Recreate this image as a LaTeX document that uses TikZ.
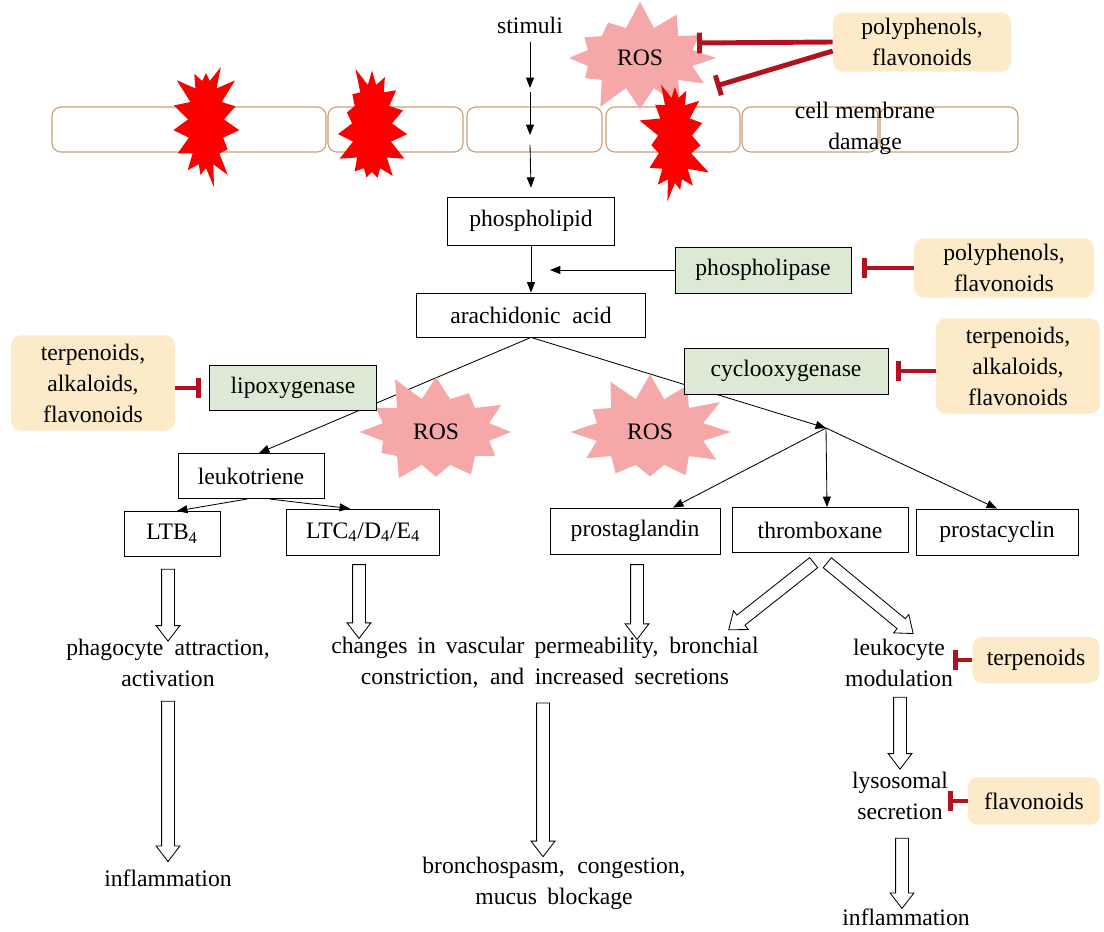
\documentclass[tikz,border=0pt]{standalone}
\usepackage{fontspec}
\setmainfont{Liberation Serif}
\usetikzlibrary{arrows.meta,shapes.symbols,shapes.arrows,calc}

\definecolor{enzgreen}{RGB}{220,234,213}
\definecolor{herbcream}{RGB}{252,234,200}
\definecolor{blockred}{RGB}{178,18,32}
\definecolor{rospink}{RGB}{246,168,168}
\definecolor{burstred}{RGB}{250,0,0}
\definecolor{cellline}{RGB}{200,160,118}

\newcommand{\fatarrow}[2]{%
  \path (#1) coordinate (faA) (#2) coordinate (faB);
  \path let \p1=($(faB)-(faA)$), \n1={veclen(\x1,\y1)} in
    (faA) -- (faB) node[hollow, midway, sloped, minimum height=\n1] {};}

\begin{document}
\begin{tikzpicture}[x=0.025cm, y=-0.025cm,
    every node/.style={font=\fontsize{16.8pt}{22pt}\selectfont, align=center, inner sep=0pt},
    box/.style={draw, line width=0.6pt, fill=white},
    enzyme/.style={box, fill=enzgreen},
    herb/.style={fill=herbcream, rounded corners=0.25cm},
    arr/.style={line width=0.6pt, -{Triangle[length=0.26cm, width=0.2cm]}},
    inhib/.style={draw=blockred, line width=3.5pt, -{Bar[width=0.52cm]}},
    cell/.style={draw=cellline, line width=0.8pt, rounded corners=0.22cm},
    ros/.style={starburst, fill=rospink, starburst points=12, starburst point height=0.7cm},
    burst/.style={starburst, fill=burstred, starburst points=15, starburst point height=0.55cm},
    hollow/.style={single arrow, draw, fill=white, line width=0.6pt, minimum width=0pt,
      inner xsep=0pt, inner ysep=0.15cm, single arrow head extend=0.1375cm,
      single arrow tip angle=75, allow upside down}]
    \useasboundingbox (0,0) rectangle (1104,932);

    % membrane
    \draw[cell] (52,107) rectangle (326,152);
    \draw[cell] (328,107) rectangle (463,152);
    \draw[cell] (467,107) rectangle (602,152);
    \draw[cell] (606,107) rectangle (740,152);
    \draw[cell] (742,107) rectangle (878,152);
    \draw[cell] (880,107) rectangle (1018,152);

    \node (stimuli) at (530,25) {stimuli};
    \node[box, minimum width=4.18cm, minimum height=1.2cm] (lipid) at (531,221) {phospholipid};
    \coordinate (s1) at (530,88);
    \coordinate (s2) at (530,92);
    \coordinate (s3) at (530,135);
    \coordinate (s4) at (530,145);
    \draw[arr, shorten <=0.2cm] (stimuli) -- (s1);
    \draw[arr] (s2) -- (s3);
    \draw[arr] (s4) -- ([yshift=0.22cm]lipid.north);

    \node[ros, minimum width=4.1cm, minimum height=2.95cm, random starburst=7] (rostop) at (640,58) {ROS};
    \node[burst, minimum width=2.0cm, minimum height=3.3cm, random starburst=3] (burst1) at (206,124) {};
    \node[burst, minimum width=2.1cm, minimum height=3.3cm, random starburst=5] (burst2) at (372,128) {};
    \node[burst, minimum width=1.95cm, minimum height=3.25cm, random starburst=9] (burst3) at (675,140) {};
    \node (damage) at (865,128) {\makebox[3.5cm][s]{cell membrane}\\damage};

    \node[herb, minimum width=4.45cm, minimum height=1.48cm] (herbtop) at (922,42) {polyphenols,\\flavonoids};
    \coordinate (bar1) at (697,43);
    \coordinate (bar2) at (716,86);
    \draw[inhib] (herbtop.west) -- (bar1);
    \draw[inhib] ($(herbtop.west)+(0,9)$) -- (bar2);

    % arachidonic acid cascade
    \node[box, minimum width=5.73cm, minimum height=1.1cm] (arach) at (531,315) {\makebox[4.03cm][s]{arachidonic acid}};
    \draw[arr] (lipid) -- (arach);
    \node[enzyme, minimum width=4.4cm, minimum height=1.15cm] (lipase) at (763,270) {phospholipase};
    \coordinate (lipasetip) at (550,270);
    \draw[arr] (lipase) -- (lipasetip);
    \node[herb, minimum width=4.5cm, minimum height=1.48cm] (herbpla) at (1004,268) {polyphenols,\\flavonoids};
    \draw[inhib, shorten >=0.27cm] (herbpla.west) -- (herbpla.west -| lipase.east);

    \node[box, minimum width=3.65cm, minimum height=1.13cm] (leuko) at (251,476) {leukotriene};
    \node[box, minimum width=2.4cm, minimum height=1.13cm] (ltb) at (172,534) {LTB\textsubscript{4}};
    \node[box, minimum width=3.83cm, minimum height=1.15cm] (ltc) at (363,532) {LTC\textsubscript{4}/D\textsubscript{4}/E\textsubscript{4}};
    \node[box, minimum width=4.25cm, minimum height=1.15cm] (prosta) at (635,531) {prostaglandin};
    \node[box, minimum width=4.4cm, minimum height=1.13cm] (thrombo) at (820,530) {thromboxane};
    \node[box, minimum width=4.05cm, minimum height=1.15cm] (cyclin) at (997,532) {prostacyclin};

    \coordinate (junc) at (826,428);
    \draw[arr] (arach.south) -- ($(leuko.north)+(8,0)$);
    \draw[arr] (arach.south) -- (junc);
    \draw[arr] (junc) -- ($(prosta.north)+(38,0)$);
    \draw[arr] (junc) -- ($(thrombo.north)+(7,0)$);
    \draw[arr] (junc) -- (cyclin.north);
    \draw[arr] ($(leuko.south)+(-4,0)$) -- ($(ltb.north)+(5,0)$);
    \draw[arr] ($(leuko.south)+(19,0)$) -- ($(ltc.north)+(-13,0)$);

    \node[ros, minimum width=4.15cm, minimum height=3.1cm, random starburst=11] (rosleft) at (436,432) {ROS};
    \node[ros, minimum width=4.15cm, minimum height=3.1cm, random starburst=4] (rosright) at (650,432) {ROS};

    \node[enzyme, minimum width=4.18cm, minimum height=1.13cm] (lipox) at (293,388) {lipoxygenase};
    \node[enzyme, minimum width=5.1cm, minimum height=1.15cm] (cyclo) at (786,371) {cyclooxygenase};
    \node[herb, minimum width=4.1cm, minimum height=2.38cm] (herblox) at (93,383) {terpenoids,\\alkaloids,\\flavonoids};
    \node[herb, minimum width=4.1cm, minimum height=2.38cm] (herbcox) at (1018,366) {terpenoids,\\alkaloids,\\flavonoids};
    \draw[inhib, shorten >=0.2cm] (herblox.east |- lipox) -- (lipox.west);
    \draw[inhib, shorten >=0.2cm] (herbcox.west |- cyclo) -- (cyclo.east);

    % effects
    \node (phago) at (168,663) {\makebox[5.08cm][s]{phagocyte attraction,}\\activation};
    \node (changes) at (545,663) {\makebox[10.68cm][s]{changes in vascular permeability, bronchial}\\\makebox[9.2cm][s]{constriction, and increased secretions}};
    \node (leukmod) at (899,663) {leukocyte\\modulation};
    \node (lyso) at (900,796) {lysosomal\\secretion};
    \node (inflamL) at (168,878) {inflammation};
    \node (broncho) at (554,883) {\makebox[6.58cm][s]{bronchospasm, congestion,}\\\makebox[3.93cm][s]{mucus blockage}};
    \node (inflamR) at (906,917) {inflammation};

    \node[herb, minimum width=3.18cm, minimum height=1.15cm] (herbleu) at (1036,660) {terpenoids};
    \node[herb, minimum width=3.3cm, minimum height=1.18cm] (herblys) at (1034,801) {flavonoids};
    \draw[inhib] (herbleu.west) -- (herbleu.west -| leukmod.east);
    \draw[inhib] (herblys.west) -- (herblys.west -| lyso.east);

    \fatarrow{$(phago.north |- ltb.south)+(0,8)$}{$(phago.north)+(0,-2)$}
    \fatarrow{$(phago.south)+(0,10)$}{$(inflamL.north)+(0,-12)$}
    \fatarrow{$(ltc.south)+(-4,5)$}{$(ltc.south |- changes.north)+(-4,-3)$}
    \fatarrow{$(prosta.south)+(2,6)$}{$(prosta.south |- changes.north)+(2,-2)$}
    \fatarrow{$(changes.south)+(-2,10)$}{$(changes.south |- broncho.north)+(-2,-4)$}
    \fatarrow{$(thrombo.south)+(-3,7)$}{$(changes.north east)+(-27,-10)$}
    \fatarrow{$(thrombo.south)+(4,7)$}{$(leukmod.north)+(11,-8)$}
    \fatarrow{$(leukmod.south)+(1,6)$}{$(leukmod.south |- lyso.north)+(1,-7)$}
    \fatarrow{$(lyso.south)+(2,14)$}{$(lyso.south |- inflamR.north)+(2,-4)$}
\end{tikzpicture}
\end{document}
